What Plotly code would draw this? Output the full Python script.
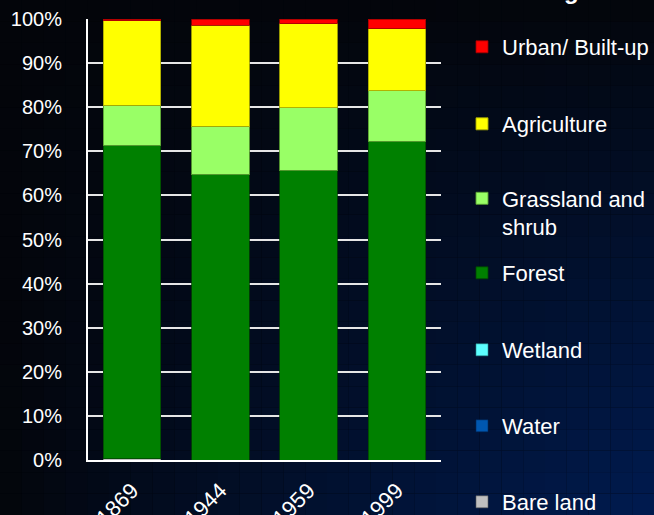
import plotly.graph_objects as go

years = ["1869", "1944", "1959", "1999"]
bare_land = [0.3, 0.0, 0.0, 0.0]
water = [0.0, 0.0, 0.0, 0.0]
wetland = [0.0, 0.0, 0.0, 0.0]
forest = [71.1, 64.8, 65.7, 72.3]
grassland = [9.0, 10.9, 14.2, 11.4]
agriculture = [19.2, 22.9, 19.0, 14.1]
urban = [0.4, 1.4, 1.1, 2.2]

series = [
    ("Bare land", bare_land, "#C0C0C0", "rgba(90,90,90,0.6)"),
    ("Water", water, "#0057B0", "rgba(0,40,90,0.6)"),
    ("Wetland", wetland, "#5CFFFF", "rgba(40,140,140,0.6)"),
    ("Forest", forest, "#008000", "rgba(0,70,0,0.8)"),
    ("Grassland and<br>shrub", grassland, "#99FF66", "rgba(90,160,50,0.9)"),
    ("Agriculture", agriculture, "#FFFF00", "rgba(170,170,0,0.9)"),
    ("Urban/ Built-up", urban, "#FF0000", "rgba(160,0,0,0.8)"),
]
# legend text centre (pixel rows) for each series, top of image = 0
legend_rows = [502, 426, 350, 273, 197, 124, 47]

W, H = 654, 515
L, R, T, B = 88, 441, 19, 460
FONT = "Liberation Sans, Arial, sans-serif"

fig = go.Figure()
for i, (name, vals, col, lcol) in enumerate(series):
    lg = "legend" if i == 0 else f"legend{i+1}"
    fig.add_trace(go.Bar(
        x=years, y=vals, name=name, marker=dict(color=col, line=dict(color=lcol, width=1)),
        legend=lg, showlegend=True, hoverinfo="x+y+name",
    ))

legends = {}
for i, row in enumerate(legend_rows):
    key = "legend" if i == 0 else f"legend{i+1}"
    two_line = "<br>" in series[i][0]
    yc = (row + 16) if two_line else row
    legends[key] = dict(
        x=(462 - L) / (R - L), xanchor="left",
        y=(B - yc) / (B - T), yanchor="middle",
        bgcolor="rgba(0,0,0,0)", borderwidth=0,
        font=dict(family=FONT, size=22, color="white"),
        valign="top", itemclick=False, itemdoubleclick=False,
    )

# background gradient (dark at top/left, navy at bottom-right)
shapes = []
nx, ny = 30, 24
base = (3, 5, 10)
navy = (0, 27, 80)
for ix in range(nx):
    for iy in range(ny):
        x0, x1 = ix / nx, (ix + 1) / nx
        y0, y1 = iy / ny, (iy + 1) / ny
        cx = (x0 + x1) / 2
        cy_from_top = 1 - (y0 + y1) / 2
        s = min(1.0, (cx ** 0.85) * (cy_from_top ** 0.9))
        c = tuple(int(round(base[k] + s * (navy[k] - base[k]))) for k in range(3))
        shapes.append(dict(type="rect", xref="paper", yref="paper",
                           x0=(x0 * W - L) / (R - L), x1=(x1 * W - L) / (R - L),
                           y0=(y0 * H - (H - B)) / (B - T), y1=(y1 * H - (H - B)) / (B - T),
                           fillcolor=f"rgb{c}", line=dict(width=0), layer="below"))

fig.update_layout(
    width=W, height=H,
    margin=dict(l=L, r=W - R, t=T, b=H - B, autoexpand=False),
    barmode="stack", bargap=0.35,
    paper_bgcolor="#03050a", plot_bgcolor="rgba(0,0,0,0)",
    font=dict(family=FONT, color="white"),
    shapes=shapes,
    **legends,
    annotations=[dict(text="<b>Legend</b>", x=(578 - L) / (R - L), xref="paper",
                      y=(B - 6) / (B - T), yref="paper", xanchor="center", yanchor="bottom",
                      showarrow=False, font=dict(family=FONT, size=24, color="white"))],
)
fig.update_xaxes(
    tickangle=-45, tickfont=dict(family=FONT, size=22, color="white"),
    showline=True, linecolor="white", linewidth=2, showgrid=False, ticks="",
    automargin=False, ticklabelstandoff=7,
)
fig.update_yaxes(
    range=[0, 100], dtick=10, ticksuffix="%", showgrid=True, gridcolor="#e6e6e6", gridwidth=2,
    showline=True, linecolor="white", linewidth=2, zeroline=False, ticks="",
    tickfont=dict(family=FONT, size=20, color="white"), ticklabelstandoff=20, automargin=False,
)

fig.write_html("out.html")
